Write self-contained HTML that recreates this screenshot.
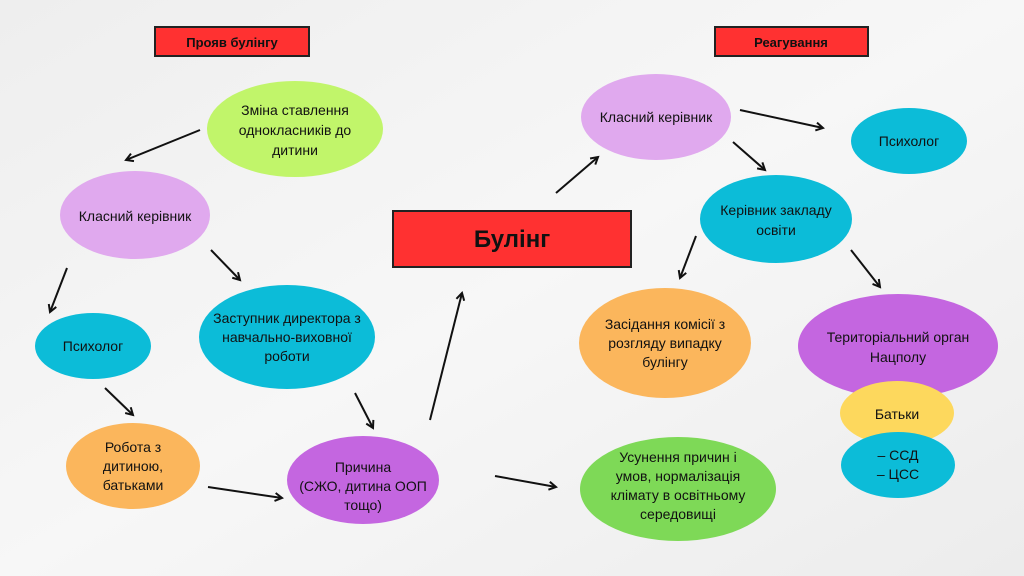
<!DOCTYPE html>
<html><head><meta charset="utf-8"><style>
html,body{margin:0;padding:0;width:1024px;height:576px;overflow:hidden;background:#f1f1f1}
svg text{font-family:"Liberation Sans",sans-serif;fill:#111}
</style></head><body>
<svg width="1024" height="576" viewBox="0 0 1024 576" xmlns="http://www.w3.org/2000/svg">
<defs>
<linearGradient id="bg" x1="0" y1="0" x2="1" y2="1"><stop offset="0" stop-color="#eeeeee"/><stop offset="0.5" stop-color="#f7f7f7"/><stop offset="1" stop-color="#ececec"/></linearGradient>
<marker id="a" markerWidth="10" markerHeight="10" refX="8" refY="5" orient="auto" markerUnits="userSpaceOnUse"><path d="M1,1 L8,5 L1,9" fill="none" stroke="#111" stroke-width="2"/></marker>
</defs>
<rect width="1024" height="576" fill="url(#bg)"/>
<rect x="155" y="27" width="154" height="29" fill="#ff3131" stroke="#222" stroke-width="2"/>
<text x="232" y="47" font-size="13" font-weight="bold" text-anchor="middle">Прояв булінгу</text>
<rect x="715" y="27" width="153" height="29" fill="#ff3131" stroke="#222" stroke-width="2"/>
<text x="791" y="47" font-size="13" font-weight="bold" text-anchor="middle">Реагування</text>
<rect x="393" y="211" width="238" height="56" fill="#ff3131" stroke="#222" stroke-width="2"/>
<text x="512" y="247" font-size="24" font-weight="bold" text-anchor="middle">Булінг</text>
<g font-size="14" text-anchor="middle">
<ellipse cx="295" cy="129" rx="88" ry="48" fill="#c1f56a"/>
<text x="295" y="115">Зміна ставлення</text><text x="295" y="135">однокласників до</text><text x="295" y="155">дитини</text>
<ellipse cx="135" cy="215" rx="75" ry="44" fill="#e0a9ee"/>
<text x="135" y="221">Класний керівник</text>
<ellipse cx="287" cy="337" rx="88" ry="52" fill="#0cbcd8"/>
<text x="287" y="323">Заступник директора з</text><text x="287" y="342">навчально-виховної</text><text x="287" y="361">роботи</text>
<ellipse cx="93" cy="346" rx="58" ry="33" fill="#0cbcd8"/>
<text x="93" y="351">Психолог</text>
<ellipse cx="133" cy="466" rx="67" ry="43" fill="#fbb65c"/>
<text x="133" y="452">Робота з</text><text x="133" y="471">дитиною,</text><text x="133" y="490">батьками</text>
<ellipse cx="363" cy="480" rx="76" ry="44" fill="#c466e0"/>
<text x="363" y="472">Причина</text><text x="363" y="491">(СЖО, дитина ООП</text><text x="363" y="510">тощо)</text>
<ellipse cx="656" cy="117" rx="75" ry="43" fill="#e0a9ee"/>
<text x="656" y="122">Класний керівник</text>
<ellipse cx="909" cy="141" rx="58" ry="33" fill="#0cbcd8"/>
<text x="909" y="146">Психолог</text>
<ellipse cx="776" cy="219" rx="76" ry="44" fill="#0cbcd8"/>
<text x="776" y="215">Керівник закладу</text><text x="776" y="235">освіти</text>
<ellipse cx="665" cy="343" rx="86" ry="55" fill="#fbb65c"/>
<text x="665" y="329">Засідання комісії з</text><text x="665" y="348">розгляду випадку</text><text x="665" y="367">булінгу</text>
<ellipse cx="898" cy="346" rx="100" ry="52" fill="#c466e0"/>
<text x="898" y="342">Територіальний орган</text><text x="898" y="362">Нацполу</text>
<ellipse cx="897" cy="413" rx="57" ry="32" fill="#fdd85d"/>
<text x="897" y="419">Батьки</text>
<ellipse cx="898" cy="465" rx="57" ry="33" fill="#0cbcd8"/>
<text x="898" y="460">– ССД</text><text x="898" y="479">– ЦСС</text>
<ellipse cx="678" cy="489" rx="98" ry="52" fill="#7ed957"/>
<text x="678" y="462">Усунення причин і</text><text x="678" y="481">умов, нормалізація</text><text x="678" y="500">клімату в освітньому</text><text x="678" y="519">середовищі</text>
</g>
<g stroke="#111" stroke-width="2" marker-end="url(#a)">
<line x1="200" y1="130" x2="126" y2="160"/>
<line x1="211" y1="250" x2="240" y2="280"/>
<line x1="67" y1="268" x2="50" y2="312"/>
<line x1="105" y1="388" x2="133" y2="415"/>
<line x1="355" y1="393" x2="373" y2="428"/>
<line x1="208" y1="487" x2="282" y2="498"/>
<line x1="430" y1="420" x2="462" y2="293"/>
<line x1="556" y1="193" x2="598" y2="157"/>
<line x1="495" y1="476" x2="556" y2="487"/>
<line x1="740" y1="110" x2="823" y2="128"/>
<line x1="733" y1="142" x2="765" y2="170"/>
<line x1="696" y1="236" x2="680" y2="278"/>
<line x1="851" y1="250" x2="880" y2="287"/>
</g>
</svg>
</body></html>
